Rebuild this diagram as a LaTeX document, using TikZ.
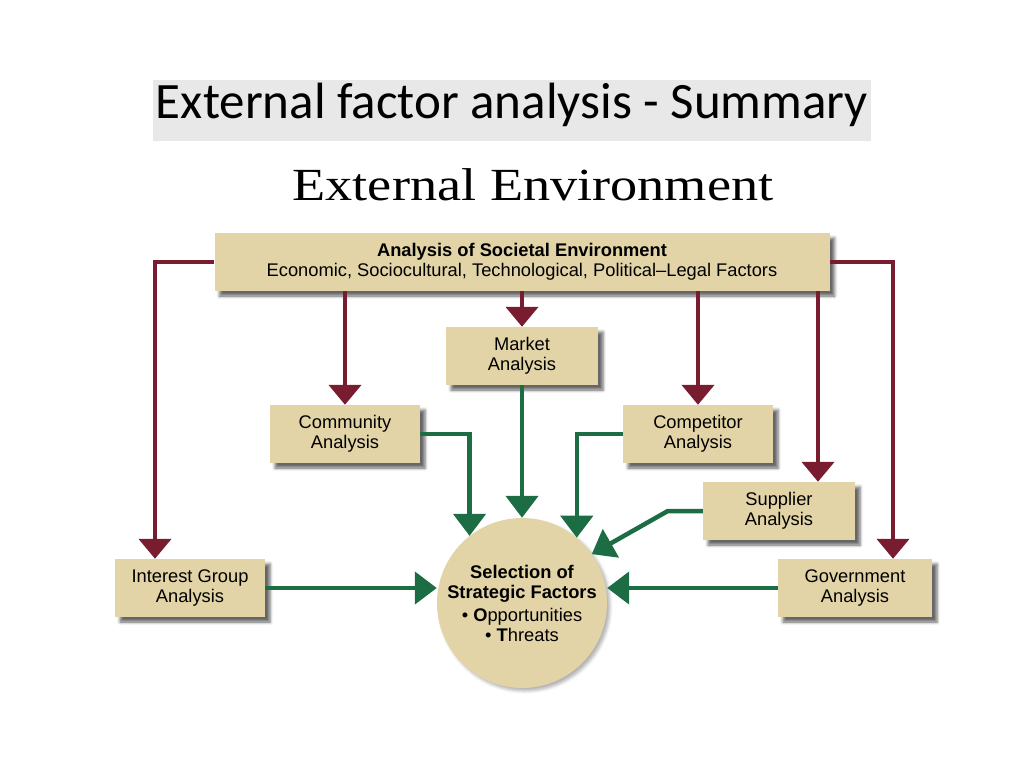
\documentclass[tikz,border=0pt]{standalone}
\usepackage{fontspec}
\setmainfont{Liberation Sans}
\newfontfamily\titlefont{Carlito}
\newfontfamily\headfont{Liberation Serif}
\usetikzlibrary{arrows.meta,positioning,shadows.blur}
\definecolor{envtan}{RGB}{226,212,166}
\definecolor{envred}{RGB}{122,28,48}
\definecolor{envgreen}{RGB}{28,108,68}
\definecolor{titlegray}{RGB}{232,232,232}

\begin{document}
\begin{tikzpicture}[x=1pt,y=-1pt,every node/.style={font=\fontsize{18.3}{20}\selectfont},
      box/.style={fill=envtan,minimum width=150pt,minimum height=58pt,align=center,inner sep=0pt,
        blur shadow={shadow xshift=5pt,shadow yshift=-5pt,shadow blur radius=3pt,shadow opacity=60}},
      redarr/.style={draw=envred,line width=4.5pt,-{Triangle[width=32pt,length=20pt]}},
      greenarr/.style={draw=envgreen,line width=4.5pt,-{Triangle[width=32pt,length=22pt]}}]
    \useasboundingbox (0,0) rectangle (1024,768);
    % Title
    \fill[titlegray] (153,80) rectangle (871,141);
    \node[font=\titlefont\fontsize{51}{56}\selectfont,anchor=base] (title) at (512,118) {External factor analysis - Summary};
    \node[font=\headfont\fontsize{46}{50}\selectfont,anchor=base] (env) at (533,200) {\scalebox{1.18}[1]{External Environment}};
    % Analysis boxes
    \node[box,minimum width=615pt] (soc) at (522,262) {\textbf{Analysis of Societal Environment}\\Economic, Sociocultural, Technological, Political--Legal Factors};
    \node[box,minimum width=152pt] (mkt) at (522,356) {Market\\Analysis};
    \node[box] (comm) at (345,434) {Community\\Analysis};
    \node[box] (comp) at (698,434) {Competitor\\Analysis};
    \node[box,minimum width=152pt] (supp) at (779,511) {Supplier\\Analysis};
    \node[box] (intg) at (190,588) {Interest Group\\Analysis};
    \node[box,minimum width=154pt] (gov) at (855,588) {Government\\Analysis};
    % Selection
    \node[circle,fill=envtan,minimum size=170pt,align=center,inner sep=0pt,
      blur shadow={shadow xshift=3pt,shadow yshift=-3pt,shadow blur radius=3pt,shadow opacity=30}] (sel) at (522,603)
      {\textbf{Selection of}\\\textbf{Strategic Factors}\\[3pt]\textbullet\ \textbf{O}pportunities\\\textbullet\ \textbf{T}hreats};
    \coordinate (suppin) at ([xshift=39pt]supp.north);
    % Societal paths
    \draw[redarr] (soc.west) -| ([xshift=-35pt]intg.north);
    \draw[redarr] (soc.east) -| ([xshift=38pt]gov.north);
    \draw[redarr] (soc.south -| comm.north) -- (comm.north);
    \draw[redarr] (soc.south) -- (mkt.north);
    \draw[redarr] (soc.south -| comp.north) -- (comp.north);
    \draw[redarr] (soc.south -| suppin) -- (suppin);
    % Task paths
    \draw[greenarr] (mkt.south) -- (sel.north);
    \draw[greenarr] (comm.east) -| (sel.128);
    \draw[greenarr] (comp.west) -| (sel.50);
    \draw[greenarr] (supp.west) -- ++(-35,0) -- (sel.35);
    \draw[greenarr] (intg.east) -- (intg.east -| sel.west);
    \draw[greenarr] (gov.west) -- (gov.west -| sel.east);
  \end{tikzpicture}
\end{document}
